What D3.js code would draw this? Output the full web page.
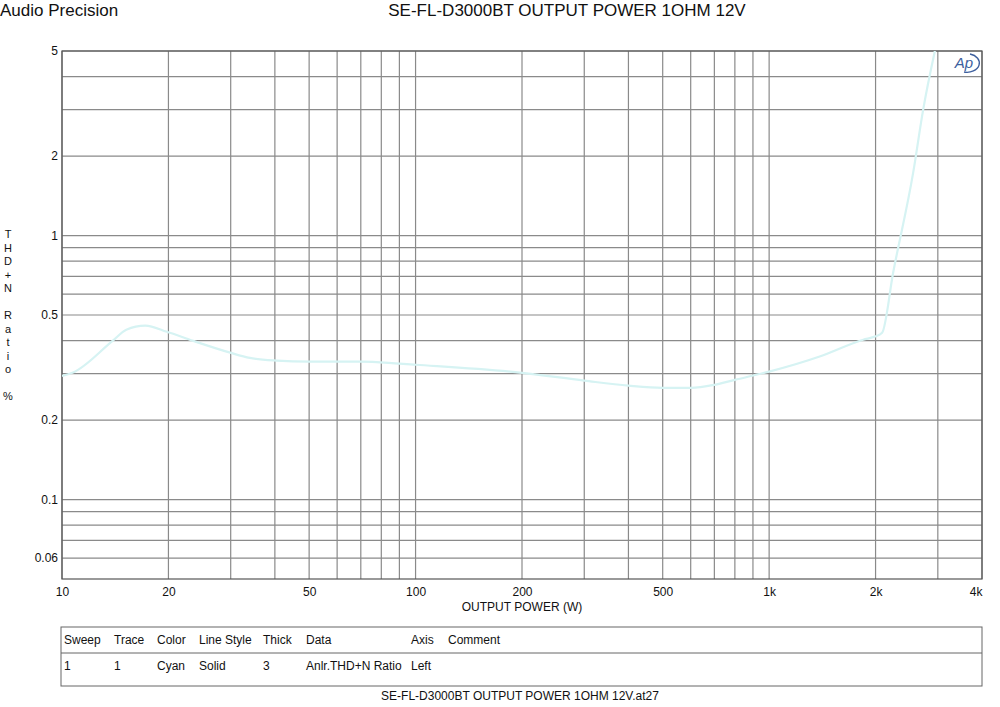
<!DOCTYPE html>
<html><head><meta charset="utf-8">
<script src="https://cdn.jsdelivr.net/npm/d3@7"></script>
<style>body{margin:0;background:#fff;} text{font-family:"Liberation Sans",Arial,sans-serif;fill:#111;}</style>
</head><body>
<svg id="c" width="1000" height="707"></svg>
<script>
const powerW = [10, 10.7, 13.9, 15.2, 17.2, 19.8, 23.5, 29.9, 34, 40.5, 50, 70, 90, 100, 200, 300, 400, 500, 600, 700, 800, 1000, 1390, 1845, 2000, 2087, 2243, 2555, 2727, 2950];
const thdPct = [0.294, 0.302, 0.399, 0.440, 0.456, 0.432, 0.399, 0.360, 0.344, 0.336, 0.333, 0.333, 0.327, 0.324, 0.302, 0.282, 0.270, 0.265, 0.265, 0.272, 0.284, 0.305, 0.348, 0.403, 0.415, 0.428, 0.724, 1.73, 3.0, 5.08];
const xTickVals = [10, 20, 50, 100, 200, 500, 1000, 2000, 4000];
const xTickLabels = ["10", "20", "50", "100", "200", "500", "1k", "2k", "4k"];
const xGridVals = [10,20,30,40,50,60,70,80,90,100,200,300,400,500,600,700,800,900,1000,2000,3000,4000];
const yTickVals = [5, 2, 1, 0.5, 0.2, 0.1, 0.06];
const yTickLabels = ["5", "2", "1", "0.5", "0.2", "0.1", "0.06"];
const yGridVals = [0.06,0.07,0.08,0.09,0.1,0.2,0.3,0.4,0.5,0.6,0.7,0.8,0.9,1,2,3,4,5];
const yLabelChars = ["T","H","D","+","N","","R","a","t","i","o","","%"];
const tableHeaders = ["Sweep","Trace","Color","Line Style","Thick","Data","Axis","Comment"];
const tableRow = ["1","1","Cyan","Solid","3","Anlr.THD+N Ratio","Left",""];

const svg = d3.select("#c");
const L = 62, R = 982, T = 51, B = 579;
const x = d3.scaleLog().domain([10, 4000]).range([L, R]);
const y = d3.scaleLog().domain([0.05, 5]).range([B, T]);

svg.append("text").attr("x", 0).attr("y", 16).attr("font-size", 17).text("Audio Precision");
svg.append("text").attr("x", 567).attr("y", 16).attr("font-size", 17).attr("text-anchor", "middle").text("SE-FL-D3000BT OUTPUT POWER 1OHM 12V");

const g = svg.append("g");
g.selectAll("line.vx").data(xGridVals).enter().append("line")
  .attr("x1", d => x(d)).attr("x2", d => x(d)).attr("y1", T).attr("y2", B)
  .attr("stroke", "#8a8a8a").attr("stroke-width", 1.2);
g.selectAll("line.hy").data(yGridVals).enter().append("line")
  .attr("y1", d => y(d)).attr("y2", d => y(d)).attr("x1", L).attr("x2", R)
  .attr("stroke", "#8a8a8a").attr("stroke-width", 1.2);
g.append("rect").attr("x", L).attr("y", T).attr("width", R - L).attr("height", B - T)
  .attr("fill", "none").attr("stroke", "#555").attr("stroke-width", 1.2);

const xAxis = d3.axisBottom(x).tickValues(xTickVals).tickFormat((d, i) => xTickLabels[i]).tickSize(0).tickPadding(8);
const xa = svg.append("g").attr("transform", `translate(0,${B})`).call(xAxis);
xa.select(".domain").remove();
xa.selectAll("text").attr("font-size", 12).attr("fill", "#111").style("font-family", "Liberation Sans, Arial, sans-serif")
  .attr("text-anchor", (d, i) => i === xTickVals.length - 1 ? "end" : "middle");
const yAxis = d3.axisLeft(y).tickValues(yTickVals).tickFormat((d, i) => yTickLabels[i]).tickSize(0).tickPadding(4);
const ya = svg.append("g").attr("transform", `translate(${L},0)`).call(yAxis);
ya.select(".domain").remove();
ya.selectAll("text").attr("font-size", 12).attr("fill", "#111").style("font-family", "Liberation Sans, Arial, sans-serif");

svg.append("text").attr("x", 522).attr("y", 611).attr("font-size", 12).attr("text-anchor", "middle").text("OUTPUT POWER (W)");
svg.selectAll("text.yl").data(yLabelChars).enter().append("text")
  .attr("x", 8).attr("y", (d, i) => 238 + i * 13.5).attr("font-size", 11).attr("text-anchor", "middle").text(d => d);

const clip = svg.append("clipPath").attr("id", "pc").append("rect").attr("x", L).attr("y", T).attr("width", R - L).attr("height", B - T);
const line = d3.line().x((d, i) => x(powerW[i])).y(d => y(d)).curve(d3.curveMonotoneX);
svg.append("path").datum(thdPct).attr("d", line).attr("clip-path", "url(#pc)")
  .attr("fill", "none").attr("stroke", "#d6f3f3").attr("stroke-width", 2.2);

const lg = svg.append("g").attr("transform", "translate(966,63)");
lg.append("path").attr("d", "M 4 -9 A 12 9 0 1 1 -2 9").attr("fill", "none").attr("stroke", "#3d5f9e").attr("stroke-width", 1.3);
lg.append("text").attr("x", -2).attr("y", 5).attr("text-anchor", "middle").attr("font-size", 15).attr("font-style", "italic").style("fill", "#3d5f9e").text("Ap");

const tb = svg.append("g");
tb.append("rect").attr("x", 61).attr("y", 627).attr("width", 921).attr("height", 59).attr("fill", "none").attr("stroke", "#666").attr("stroke-width", 1);
tb.append("line").attr("x1", 61).attr("x2", 982).attr("y1", 653).attr("y2", 653).attr("stroke", "#666").attr("stroke-width", 1);
const colX = [64, 114, 157, 199, 263, 306, 411, 448];
tb.selectAll("text.h").data(tableHeaders).enter().append("text").attr("x", (d, i) => colX[i]).attr("y", 644).attr("font-size", 12).text(d => d);
tb.selectAll("text.r").data(tableRow).enter().append("text").attr("x", (d, i) => colX[i]).attr("y", 670).attr("font-size", 12).text(d => d);
svg.append("text").attr("x", 520).attr("y", 700).attr("font-size", 12).attr("text-anchor", "middle").text("SE-FL-D3000BT OUTPUT POWER 1OHM 12V.at27");
</script>
</body></html>
